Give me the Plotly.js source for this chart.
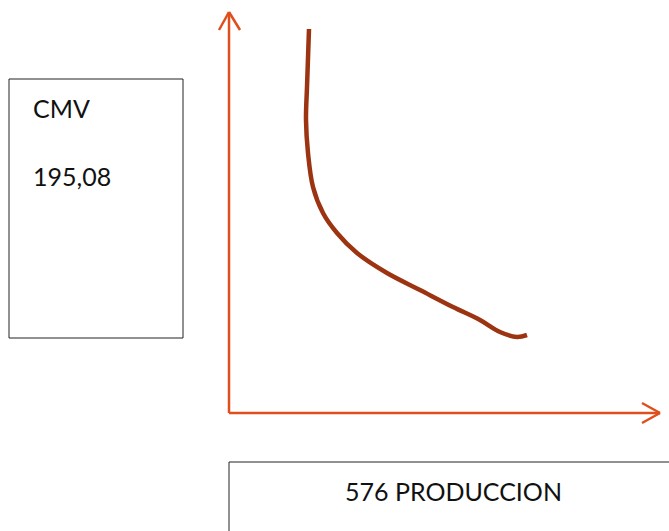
<!DOCTYPE html>
<html>
<head>
<meta charset="utf-8">
<script src="https://cdn.plot.ly/plotly-3.0.1.min.js"></script>
<style>html,body{margin:0;padding:0;background:#fff;}#chart{width:669px;height:531px;}</style>
</head>
<body>
<div id="chart"></div>
<script>
// Sketched cost curve (production on x, cost on y), origin at the axes corner
var curveX = [80, 78, 77, 79, 84, 94, 108, 128, 158, 191, 224, 251, 271, 288, 298];
var curveY = [384, 326, 293, 260, 226, 200, 180, 160, 140, 123, 106, 93, 81, 76, 78];
var costLabel = "CMV";
var costValue = "195,08";
var productionLabel = "576 PRODUCCION";

var axisColor = "#DF4F1D";
var curveColor = "#9C3311";
var fontFam = "Lato, 'Open Sans', sans-serif";

var data = [{
  x: curveX, y: curveY, type: "scatter", mode: "lines",
  line: {color: curveColor, width: 4.5, shape: "spline", smoothing: 1},
  hoverinfo: "skip", showlegend: false
}];

function seg(x0, y0, x1, y1, color, w) {
  return {type: "line", xref: "x", yref: "y", x0: x0, y0: y0, x1: x1, y1: y1,
          line: {color: color, width: w}};
}

var shapes = [
  // axes
  seg(0, 0, 431, 0, axisColor, 2.5),
  seg(0, 0, 0, 401, axisColor, 2.5),
  // arrowheads
  seg(-10, 383, 0, 401, axisColor, 2.5),
  seg(0, 401, 11, 383, axisColor, 2.5),
  seg(413, 10, 431, 0, axisColor, 2.5),
  seg(431, 0, 413, -10, axisColor, 2.5),
  // text boxes
  {type: "rect", xref: "x", yref: "y", x0: -220, x1: -46, y0: 75, y1: 334,
   line: {color: "#222", width: 1}, fillcolor: "rgba(0,0,0,0)"},
  {type: "rect", xref: "x", yref: "y", x0: 0, x1: 460, y0: -49, y1: -130,
   line: {color: "#222", width: 1}, fillcolor: "rgba(0,0,0,0)"}
];

var annotations = [
  {x: -198, y: 305, xref: "x", yref: "y", text: costLabel, showarrow: false,
   xanchor: "left", yanchor: "middle", font: {family: fontFam, size: 25, color: "#111"}},
  {x: -198, y: 237, xref: "x", yref: "y", text: costValue, showarrow: false,
   xanchor: "left", yanchor: "middle", font: {family: fontFam, size: 25, color: "#111"}},
  {x: 224, y: -78, xref: "x", yref: "y", text: productionLabel, showarrow: false,
   xanchor: "center", yanchor: "middle", font: {family: fontFam, size: 25, color: "#111"}}
];

var layout = {
  width: 669, height: 531,
  margin: {l: 0, r: 0, t: 0, b: 0, pad: 0},
  paper_bgcolor: "#fff", plot_bgcolor: "#fff",
  xaxis: {range: [-229, 440], visible: false, fixedrange: true},
  yaxis: {range: [-118, 413], visible: false, fixedrange: true},
  shapes: shapes,
  annotations: annotations,
  showlegend: false
};

Plotly.newPlot("chart", data, layout, {displayModeBar: false, staticPlot: true});
</script>
</body>
</html>
